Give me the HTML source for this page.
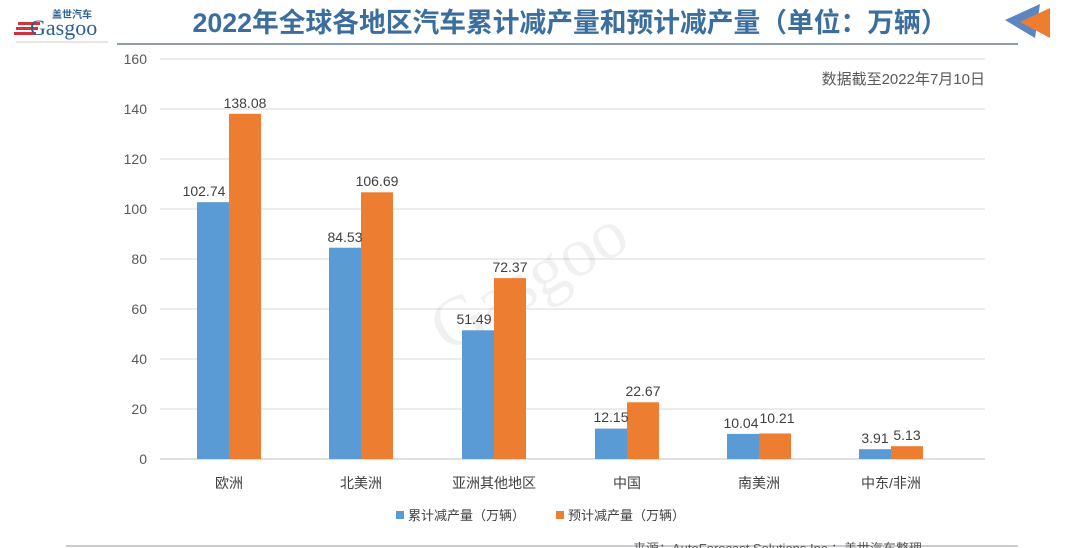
<!DOCTYPE html><html><head><meta charset="utf-8"><style>body{margin:0;background:#fff;font-family:"Liberation Sans","Noto Sans CJK SC",sans-serif}</style></head><body>
<svg width="1080" height="548" xmlns="http://www.w3.org/2000/svg" style="display:block;font-family:'Liberation Sans','Noto Sans CJK SC',sans-serif">
<rect width="1080" height="548" fill="#fff"/>
<g>
<rect x="18" y="22" width="22" height="3" fill="#d0343a"/><rect x="16" y="27" width="22" height="3" fill="#d0343a"/><rect x="14" y="32" width="22" height="3" fill="#d0343a"/>
<text x="30" y="35" font-size="22" fill="#2b5f94" font-family="Liberation Serif,serif">Gasgoo</text>
<text x="52" y="18" font-size="10" fill="#2b5f94" font-weight="bold">盖世汽车</text>
<line x1="16" y1="42" x2="108" y2="42" stroke="#bbb" stroke-width="0.8"/>
</g>
<text x="570" y="32" font-size="27" font-weight="bold" fill="#3b6e9e" text-anchor="middle" textLength="755" lengthAdjust="spacingAndGlyphs">2022年全球各地区汽车累计减产量和预计减产量（单位：万辆）</text>
<line x1="117" y1="44" x2="1018" y2="44" stroke="#6a7f95" stroke-width="1.5"/>
<polygon points="1005,20 1040,4 1035,38" fill="#5b86c0"/>
<polygon points="1020,22 1050,8 1050,38" fill="#ee7d31"/>
<g stroke="#d9d9d9" stroke-width="1">
<line x1="160" y1="59" x2="985" y2="59"/><line x1="160" y1="109" x2="985" y2="109"/><line x1="160" y1="159" x2="985" y2="159"/><line x1="160" y1="209" x2="985" y2="209"/><line x1="160" y1="259" x2="985" y2="259"/><line x1="160" y1="309" x2="985" y2="309"/><line x1="160" y1="359" x2="985" y2="359"/><line x1="160" y1="409" x2="985" y2="409"/>
</g>
<line x1="160" y1="459" x2="985" y2="459" stroke="#bfbfbf"/>
<g font-size="14" fill="#595959" text-anchor="end">
<text x="147" y="64">160</text><text x="147" y="114">140</text><text x="147" y="164">120</text><text x="147" y="214">100</text><text x="147" y="264">80</text><text x="147" y="314">60</text><text x="147" y="364">40</text><text x="147" y="414">20</text><text x="147" y="464">0</text>
</g>
<text x="985" y="84" font-size="15" fill="#595959" text-anchor="end">数据截至2022年7月10日</text>
<text x="540" y="300" font-size="70" fill="#000" opacity="0.05" transform="rotate(-30 540 300)" text-anchor="middle" font-family="Liberation Serif,serif">Gasgoo</text>
<g fill="#5b9bd5">
<rect x="197" y="202.2" width="32" height="256.8"/><rect x="329" y="247.7" width="32" height="211.3"/><rect x="462" y="330.3" width="32" height="128.7"/><rect x="595" y="428.6" width="32" height="30.4"/><rect x="727" y="433.9" width="32" height="25.1"/><rect x="859" y="449.2" width="32" height="9.8"/>
</g>
<g fill="#ed7d31">
<rect x="229" y="113.8" width="32" height="345.2"/><rect x="361" y="192.3" width="32" height="266.7"/><rect x="494" y="278.1" width="32" height="180.9"/><rect x="627" y="402.3" width="32" height="56.7"/><rect x="759" y="433.5" width="32" height="25.5"/><rect x="891" y="446.2" width="32" height="12.8"/>
</g>
<g font-size="14" fill="#404040" text-anchor="middle">
<text x="204" y="196">102.74</text><text x="245" y="108">138.08</text>
<text x="345" y="242">84.53</text><text x="377" y="186">106.69</text>
<text x="474" y="324">51.49</text><text x="510" y="272">72.37</text>
<text x="611" y="422">12.15</text><text x="643" y="396">22.67</text>
<text x="741" y="428">10.04</text><text x="777" y="423">10.21</text>
<text x="875" y="443">3.91</text><text x="907" y="440">5.13</text>
</g>
<g font-size="14" fill="#404040" text-anchor="middle">
<text x="229" y="488">欧洲</text><text x="361" y="488">北美洲</text><text x="494" y="488">亚洲其他地区</text><text x="627" y="488">中国</text><text x="759" y="488">南美洲</text><text x="891" y="488">中东/非洲</text>
</g>
<rect x="396" y="511" width="8" height="8" fill="#5b9bd5"/><text x="408" y="520" font-size="13" fill="#404040">累计减产量（万辆）</text>
<rect x="556" y="511" width="8" height="8" fill="#ed7d31"/><text x="568" y="520" font-size="13" fill="#404040">预计减产量（万辆）</text>
<line x1="66" y1="546" x2="1018" y2="546" stroke="#c8ccd2" stroke-width="2"/>
<text x="633" y="553" font-size="13" fill="#595959">来源：AutoForecast Solutions Inc.；盖世汽车整理</text>
</svg>
</body></html>
